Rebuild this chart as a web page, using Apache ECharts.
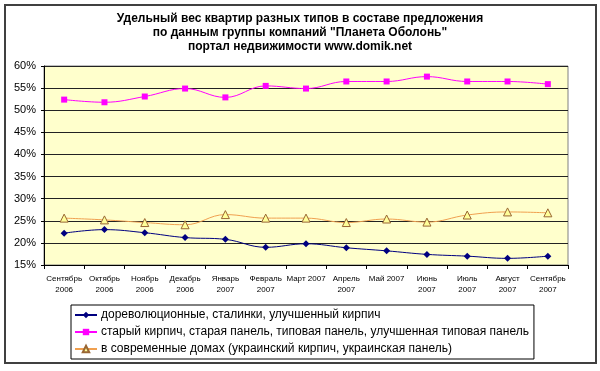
<!DOCTYPE html>
<html><head><meta charset="utf-8">
<script src="https://cdn.jsdelivr.net/npm/echarts@6/dist/echarts.min.js"></script>
<style>html,body{margin:0;padding:0;background:#fff}#c{width:600px;height:371px}</style>
</head><body><div id="c"></div>
<script>
var categories = ["Сентябрь\n2006","Октябрь\n2006","Ноябрь\n2006","Декабрь\n2006","Январь\n2007","Февраль\n2007","Март 2007","Апрель\n2007","Май 2007","Июнь\n2007","Июль\n2007","Август\n2007","Сентябрь\n2007"];
var seriesNames = ["дореволюционные, сталинки, улучшенный кирпич","старый кирпич, старая панель, типовая панель, улучшенная типовая панель","в современные домах (украинский кирпич, украинская панель)"];
var prerevolution = [22.2,23.0,22.3,21.2,20.8,19.0,19.8,18.9,18.2,17.4,17.0,16.5,17.0];
var oldPanel = [52.4,51.8,53.1,54.9,52.9,55.5,54.9,56.5,56.5,57.6,56.5,56.5,55.9];
var modern = [25.6,25.2,24.6,24.1,26.4,25.6,25.6,24.6,25.4,24.7,26.3,27.0,26.8];
var titleLines = ["Удельный вес квартир разных типов в составе предложения","по данным группы компаний \"Планета Оболонь\"","портал недвижимости www.domik.net"];

var chart = echarts.init(document.getElementById('c'), null, {renderer:'canvas'});
chart.setOption({
  animation:false,
  backgroundColor:'#fff',
  title:{text:titleLines.join('\n'),left:'center',top:7,
    textStyle:{fontFamily:'Arial, Liberation Sans',fontSize:12,fontWeight:'bold',color:'#000',lineHeight:14}},
  graphic:[{type:'rect',shape:{x:5,y:5,width:591,height:358},style:{fill:'none',stroke:'#404040',lineWidth:2},silent:true}],
  grid:{left:44,right:32,top:66,bottom:106,show:true,backgroundColor:'#FFFFCC',borderColor:'#808080',borderWidth:1},
  legend:{orient:'vertical',left:71,top:305,itemGap:5,itemWidth:22,itemHeight:8,
    padding:[4,5,4,3],borderColor:'#000',borderWidth:1,backgroundColor:'#fff',
    textStyle:{fontFamily:'Arial, Liberation Sans',fontSize:12,color:'#000',padding:[0,0,0,-1]},
    data:seriesNames},
  xAxis:{type:'category',data:categories,boundaryGap:true,
    axisLine:{lineStyle:{color:'#000'}},
    axisTick:{show:true,length:4,lineStyle:{color:'#000'}},
    axisLabel:{interval:0,fontFamily:'Arial, Liberation Sans',fontSize:8,color:'#000',lineHeight:11,margin:8}},
  yAxis:{type:'value',min:15,max:60,interval:5,
    axisLine:{show:true,lineStyle:{color:'#000'}},
    axisTick:{show:true,length:3,lineStyle:{color:'#000'}},
    axisLabel:{formatter:'{value}%',fontFamily:'Arial, Liberation Sans',fontSize:11,color:'#000',margin:8},
    splitLine:{lineStyle:{color:'#222',width:1}}},
  series:[
    {name:seriesNames[0],type:'line',data:prerevolution,smooth:0.4,symbol:'diamond',symbolSize:7,
      lineStyle:{color:'#000080',width:1},itemStyle:{color:'#000080'}},
    {name:seriesNames[1],type:'line',data:oldPanel,smooth:0.4,symbol:'rect',symbolSize:6,
      lineStyle:{color:'#FF00FF',width:1},itemStyle:{color:'#FF00FF'}},
    {name:seriesNames[2],type:'line',data:modern,smooth:0.4,symbol:'triangle',symbolSize:8,
      lineStyle:{color:'#F0A050',width:1},itemStyle:{color:'#FFFF99',borderColor:'#996633',borderWidth:1}}
  ]
});
</script></body></html>
